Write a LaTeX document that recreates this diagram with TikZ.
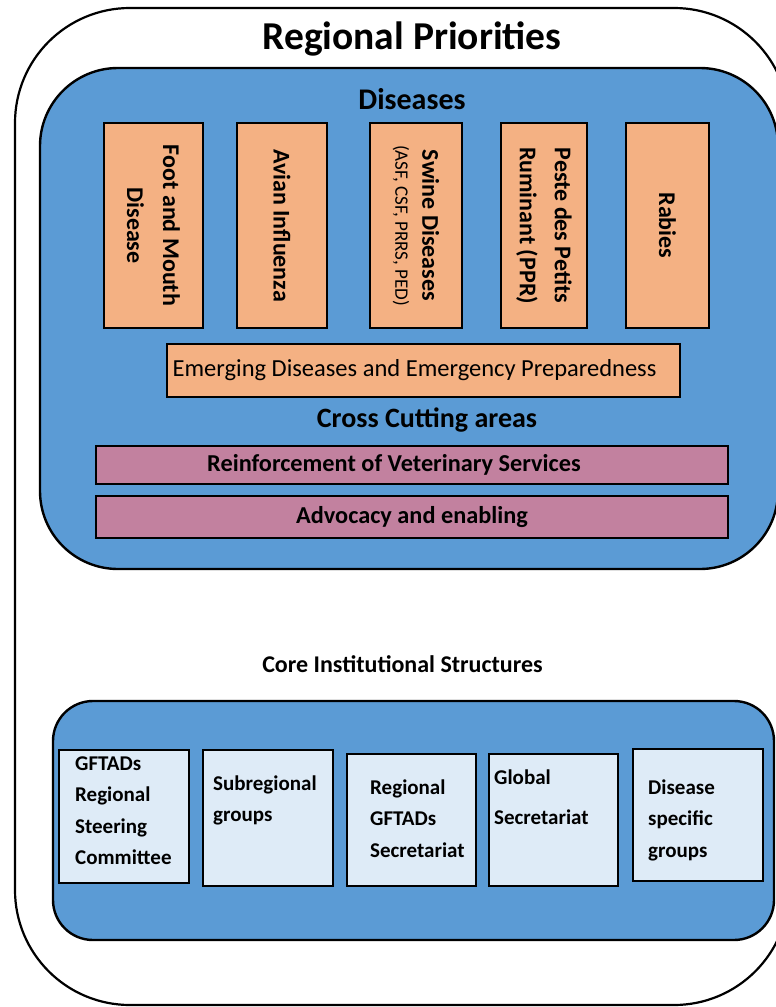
\documentclass[tikz,border=0pt]{standalone}
\usepackage{fontspec}
\setmainfont{Carlito}
\definecolor{bluebg}{HTML}{5B9BD5}
\definecolor{orangebox}{HTML}{F4B183}
\definecolor{mauvebox}{HTML}{C2819F}
\definecolor{palebox}{HTML}{DEEBF7}
\begin{document}
\begin{tikzpicture}[x=1pt,y=-1pt,
  outerbox/.style={draw=black, line width=2.2pt, fill=white, rounded corners=115pt, inner sep=0pt},
  bluebox/.style={draw=black, line width=2.4pt, fill=bluebg, inner sep=0pt},
  disbox/.style={draw=black, line width=2.6pt, fill=orangebox, inner sep=0pt, align=center},
  crossbox/.style={draw=black, line width=2.6pt, fill=mauvebox, inner sep=0pt, font=\fontsize{24.3}{28}\selectfont\bfseries},
  instbox/.style={draw=black, line width=2.6pt, fill=palebox, inner sep=0pt},
  insttext/.style={inner sep=0pt, anchor=north west, align=left, font=\fontsize{21}{31.5}\selectfont\bfseries},
  heading/.style={inner sep=0pt, font=\bfseries}
]
\useasboundingbox (0,0) rectangle (776,1007);
\fill[white] (0,0) rectangle (776,1007);

% outer frame
\node[outerbox, minimum width=774pt, minimum height=997pt] (outer) at (402,506.5) {};
\node[heading, font=\fontsize{39.5}{44}\selectfont\bfseries] (title) at (412,38.5) {Regional Priorities};

% upper blue panel
\node[bluebox, rounded corners=78pt, minimum width=738pt, minimum height=501pt] (upper) at (409,318.5) {};
\node[heading, font=\fontsize{30}{34}\selectfont\bfseries] (diseases) at (412,99) {Diseases};

% disease boxes
\tikzset{dfont/.style={font=\fontsize{24}{36}\selectfont\bfseries}}
\node[disbox, dfont, rotate=-90, minimum width=205pt, minimum height=99pt] (fmd) at (153.5,225.5) {Foot and Mouth\\Disease};
\node[disbox, dfont, rotate=-90, minimum width=205pt, minimum height=90pt] (avian) at (282,225.5) {Avian Influenza};
\node[disbox, font=\fontsize{24}{28}\selectfont\bfseries, rotate=-90, minimum width=205pt, minimum height=92pt] (swine) at (416,225.5) {Swine Diseases\\[-1pt]{\fontsize{19}{22}\selectfont\mdseries (ASF, CSF, PRRS, PED)}};
\node[disbox, font=\fontsize{24}{35}\selectfont\bfseries, rotate=-90, minimum width=205pt, minimum height=86pt] (ppr) at (544,225.5) {Peste des Petits\\Ruminant (PPR)};
\node[disbox, dfont, rotate=-90, minimum width=205pt, minimum height=83pt] (rabies) at (667.5,225.5) {Rabies};

\node[disbox, font=\fontsize{24.5}{28}\selectfont, minimum width=513pt, minimum height=53pt] (emerg) at (423.5,370.5) {Emerging Diseases and Emergency Preparedness\hspace*{18pt}};

\node[heading, font=\fontsize{28}{32}\selectfont\bfseries] (cross) at (427,420) {Cross Cutting areas};

\node[crossbox, minimum width=632pt, minimum height=38pt] (reinf) at (412,465) {Reinforcement of Veterinary Services\hspace*{36pt}};
\node[crossbox, minimum width=632pt, minimum height=42pt] (advoc) at (412,517) {Advocacy and enabling};

% core institutional structures
\node[heading, font=\fontsize{24}{28}\selectfont\bfseries] (core) at (402.5,664) {Core Institutional Structures};

\node[bluebox, rounded corners=40pt, minimum width=721pt, minimum height=239pt] (lower) at (413.5,820.5) {};

\node[instbox, minimum width=130pt, minimum height=133pt] (b1) at (124,816.5) {};
\node[instbox, minimum width=130pt, minimum height=136pt] (b2) at (268,818) {};
\node[instbox, minimum width=129pt, minimum height=132pt] (b3) at (411.5,820) {};
\node[instbox, minimum width=129pt, minimum height=132pt] (b4) at (553.5,820) {};
\node[instbox, minimum width=130pt, minimum height=132pt] (b5) at (698,815) {};

\node[insttext] (t1) at (75,748) {\strut GFTADs\\Regional\\Steering\\Committee};
\node[insttext] (t2) at (213,768) {\strut Subregional\\groups};
\node[insttext] (t3) at (370,772) {\strut Regional\\GFTADs\\Secretariat};
\node[insttext, font=\fontsize{21}{40}\selectfont\bfseries] (t4) at (494,756) {\strut Global\\Secretariat};
\node[insttext] (t5) at (648,772) {\strut Disease\\specific\\groups};
\end{tikzpicture}
\end{document}
